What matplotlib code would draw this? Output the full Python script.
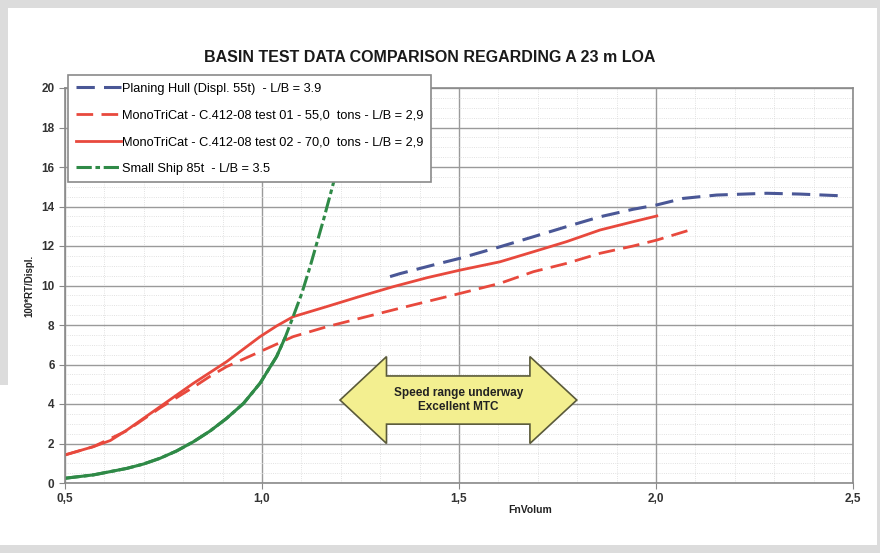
import numpy as np
import matplotlib.pyplot as plt
from matplotlib.patches import Polygon, Rectangle
from matplotlib.ticker import MultipleLocator, FuncFormatter

plt.rcParams["font.family"] = ["Liberation Sans", "DejaVu Sans"]

# data
planing_x = [1.325, 1.35, 1.435, 1.503, 1.604, 1.689, 1.773, 1.858, 1.942, 2.002, 2.069, 2.154, 2.281, 2.365, 2.484]
planing_y = [10.45, 10.6, 11.04, 11.38, 11.96, 12.47, 12.98, 13.48, 13.86, 14.08, 14.41, 14.58, 14.67, 14.63, 14.53]

test01_x = [0.5, 0.572, 0.657, 0.741, 0.826, 0.868, 0.910, 0.995, 1.079, 1.164, 1.249, 1.35, 1.503, 1.604,
            1.689, 1.773, 1.858, 1.942, 2.002, 2.086]
test01_y = [1.42, 1.84, 2.65, 3.8, 4.85, 5.4, 5.89, 6.65, 7.41, 7.91, 8.34, 8.85, 9.6, 10.11,
            10.7, 11.12, 11.63, 12.0, 12.3, 12.81]

test02_x = [0.5, 0.572, 0.615, 0.657, 0.741, 0.826, 0.910, 0.995, 1.037, 1.079, 1.164, 1.249, 1.333, 1.42,
            1.503, 1.604, 1.689, 1.773, 1.858, 1.942, 2.002]
test02_y = [1.42, 1.84, 2.15, 2.68, 3.86, 5.05, 6.14, 7.41, 7.95, 8.42, 8.93, 9.45, 9.94, 10.4,
            10.78, 11.2, 11.71, 12.22, 12.81, 13.23, 13.52]

ship_x = [0.5, 0.572, 0.657, 0.699, 0.741, 0.783, 0.826, 0.868, 0.910, 0.953, 0.995, 1.037, 1.058, 1.079,
          1.101, 1.122, 1.156, 1.181, 1.19]
ship_y = [0.24, 0.41, 0.74, 0.96, 1.25, 1.62, 2.09, 2.63, 3.27, 4.03, 5.05, 6.4, 7.33, 8.42,
          9.6, 10.95, 13.32, 15.17, 15.8]

labels = [
    "Planing Hull (Displ. 55t)  - L/B = 3.9",
    "MonoTriCat - C.412-08 test 01 - 55,0  tons - L/B = 2,9",
    "MonoTriCat - C.412-08 test 02 - 70,0  tons - L/B = 2,9",
    "Small Ship 85t  - L/B = 3.5",
]

fig = plt.figure(figsize=(8.8, 5.53), dpi=100, facecolor="#dcdcdc")
# white page with a grey frame round it
fig.patches.append(Rectangle((8 / 880, 8 / 553), 869 / 880, 537 / 553, transform=fig.transFigure,
                             facecolor="white", edgecolor="none", zorder=-10))
fig.patches.append(Rectangle((0, 8 / 553), 10 / 880, (545 - 385) / 553, transform=fig.transFigure,
                             facecolor="white", edgecolor="none", zorder=-10))

ax = fig.add_axes([65 / 880, 70 / 553, 788 / 880, 395 / 553])
ax.set_xlim(0.5, 2.5)
ax.set_ylim(0, 20)
ax.xaxis.set_major_locator(MultipleLocator(0.5))
ax.xaxis.set_minor_locator(MultipleLocator(0.1))
ax.yaxis.set_major_locator(MultipleLocator(2))
ax.yaxis.set_minor_locator(MultipleLocator(0.5))
ax.xaxis.set_major_formatter(FuncFormatter(lambda v, p: f"{v:.1f}".replace(".", ",")))
ax.grid(which="major", color="#9a9a9a", linewidth=1.0)
ax.grid(which="minor", color="#d8d8d8", linewidth=0.6, linestyle=":")
ax.set_axisbelow(True)
ax.tick_params(which="minor", length=0)
ax.tick_params(which="major", length=4, color="#888888", labelsize=8.5, labelcolor="#333333")
for t in ax.get_xticklabels() + ax.get_yticklabels():
    t.set_fontweight("bold")
for s in ax.spines.values():
    s.set_color("#8a8a8a")
    s.set_linewidth(1.2)

ax.plot(planing_x, planing_y, color="#4a5796", lw=2.2, dashes=(6, 3), label=labels[0])
ax.plot(test01_x, test01_y, color="#e8493d", lw=2.0, dashes=(6, 3), label=labels[1])
ax.plot(test02_x, test02_y, color="#e8493d", lw=2.0, label=labels[2])
sx = np.array(ship_x)
sy = np.array(ship_y)
low = sx <= 1.06
ax.plot(sx[low], sy[low], color="#2f8a47", lw=2.2)
ax.plot(sx, sy, color="#2f8a47", lw=2.2, dashes=(5, 1.2, 1.5, 1.2), label=labels[3])

# double arrow annotation
xl, xr, hl, hr = 1.198, 1.799, 1.316, 1.68
yc, bh, hh = 4.2, 1.22, 2.2
arrow = Polygon([(xl, yc), (hl, yc + hh), (hl, yc + bh), (hr, yc + bh), (hr, yc + hh), (xr, yc),
                 (hr, yc - hh), (hr, yc - bh), (hl, yc - bh), (hl, yc - hh)],
                closed=True, facecolor="#f3ef90", edgecolor="#5a5a3a", lw=1.2, zorder=5)
ax.add_patch(arrow)
ax.text((xl + xr) / 2, yc, "Speed range underway\nExcellent MTC", ha="center", va="center",
        fontsize=8.5, fontweight="bold", color="#222222", zorder=6, linespacing=1.2)

leg = ax.legend(loc="upper left", bbox_to_anchor=(0.004, 1.033), borderaxespad=0, fontsize=9.2,
                frameon=True, fancybox=False, edgecolor="#8a8a8a", framealpha=1, handlelength=3.5,
                handletextpad=0.15, labelspacing=1.15, borderpad=0.6)
leg.get_frame().set_linewidth(1.2)
leg.set_zorder(10)

ax.set_ylabel("100*RT/Displ.", fontsize=7, fontweight="bold", color="#222222")
ax.yaxis.set_label_coords(-0.039, 0.5)
ax.set_xlabel("FnVolum", fontsize=7.5, fontweight="bold", color="#222222")
ax.xaxis.set_label_coords(0.59, -0.055)

fig.text(430 / 880, 1 - 57 / 553, "BASIN TEST DATA COMPARISON REGARDING A 23 m LOA",
         ha="center", va="center", fontsize=11.5, fontweight="bold", color="#1a1a1a")

fig.savefig("out.png", dpi=100, facecolor=fig.get_facecolor())
